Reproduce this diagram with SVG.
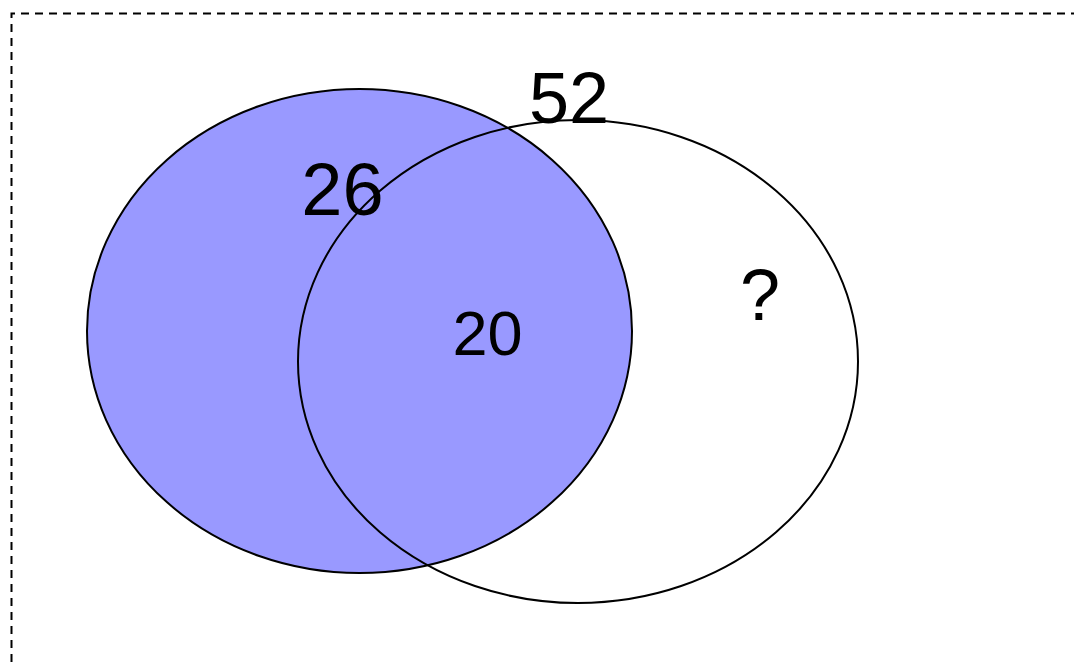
<svg xmlns="http://www.w3.org/2000/svg" width="1074" height="662" viewBox="0 0 1074 662">
<style>
.lbl{font-family:"Liberation Sans",Arial,sans-serif;fill:#000;text-anchor:middle}
.set{stroke:#000;stroke-width:2}
</style>
<rect width="1074" height="662" fill="#fff"/>
<path d="M11.5,662 V13.5 H1074" fill="none" stroke="#000" stroke-width="2" stroke-dasharray="8,6"/>
<g id="setA"><ellipse class="set" cx="359.5" cy="331" rx="272.5" ry="242" fill="#9999FF"/></g>
<g id="setB"><ellipse class="set" cx="578" cy="361.5" rx="280" ry="241.5" fill="none"/></g>
<g id="labels">
<text class="lbl" x="569" y="123" font-size="72">52</text>
<text class="lbl" x="342.5" y="215" font-size="74">26</text>
<text class="lbl" x="487.5" y="355" font-size="63">20</text>
<text class="lbl" x="760" y="320" font-size="72">?</text>
</g>
</svg>
